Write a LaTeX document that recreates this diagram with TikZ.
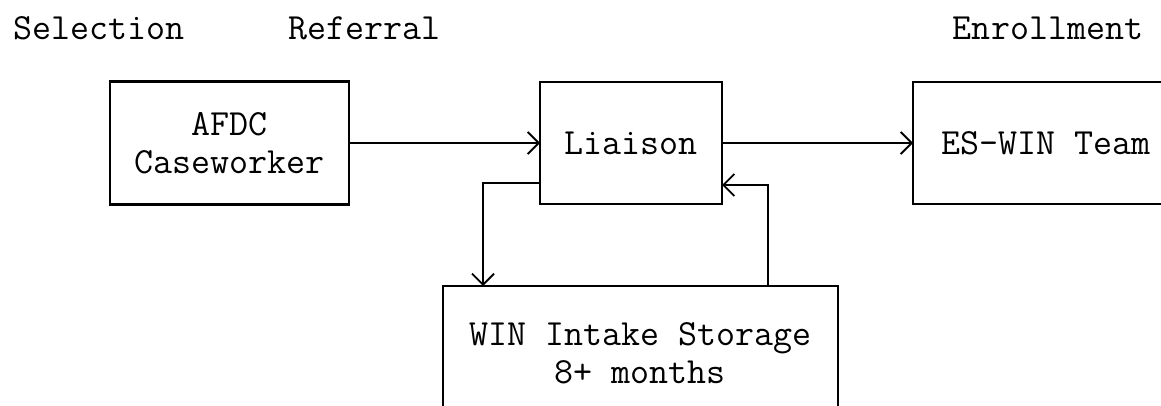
\documentclass[tikz,border=0pt]{standalone}
\usepackage{fontspec}
\usepackage{tikz}
\usetikzlibrary{arrows.meta,positioning,calc}

\begin{document}
\begin{tikzpicture}[
    box/.style={draw, line width=1.5pt, inner sep=0pt, outer sep=0pt, align=center},
    head/.style={inner sep=0pt},
    every node/.style={font=\ttfamily\fontsize{21}{21.5}\selectfont},
    >={Straight Barb[length=2.2mm,width=4.4mm]}
  ]
    \useasboundingbox (0,0) rectangle (23.22,-8.12);
    \clip (0,0) rectangle (23.22,-8.12);
    \node[head] (Sel) at (1.98,-0.56) {Selection};
    \node[head] (Ref) at (7.29,-0.56) {Referral};
    \node[head] (Enr) at (20.96,-0.56) {Enrollment};
    \node[box, minimum width=4.78cm, minimum height=2.46cm] (C) at (4.59,-2.86) {AFDC\\Caseworker};
    \node[box, minimum width=3.64cm, minimum height=2.44cm] (L) at (12.62,-2.86) {Liaison};
    \node[box, minimum width=5.32cm, minimum height=2.44cm] (E) at (20.92,-2.86) {ES-WIN Team};
    \node[box, minimum width=7.9cm, minimum height=2.68cm] (W) at (12.81,-7.06) {WIN Intake Storage\\8+ months};
    \draw[->, line width=1.1pt] (C) -- (L);
    \draw[->, line width=1.1pt] (L) -- (E);
    \draw[->, line width=1.1pt] ([yshift=-0.8cm]L.west) -| ([xshift=-3.15cm]W.north);
    \draw[->, line width=1.1pt] ([xshift=2.55cm]W.north) |- ([yshift=-0.84cm]L.east);
  \end{tikzpicture}
\end{document}
